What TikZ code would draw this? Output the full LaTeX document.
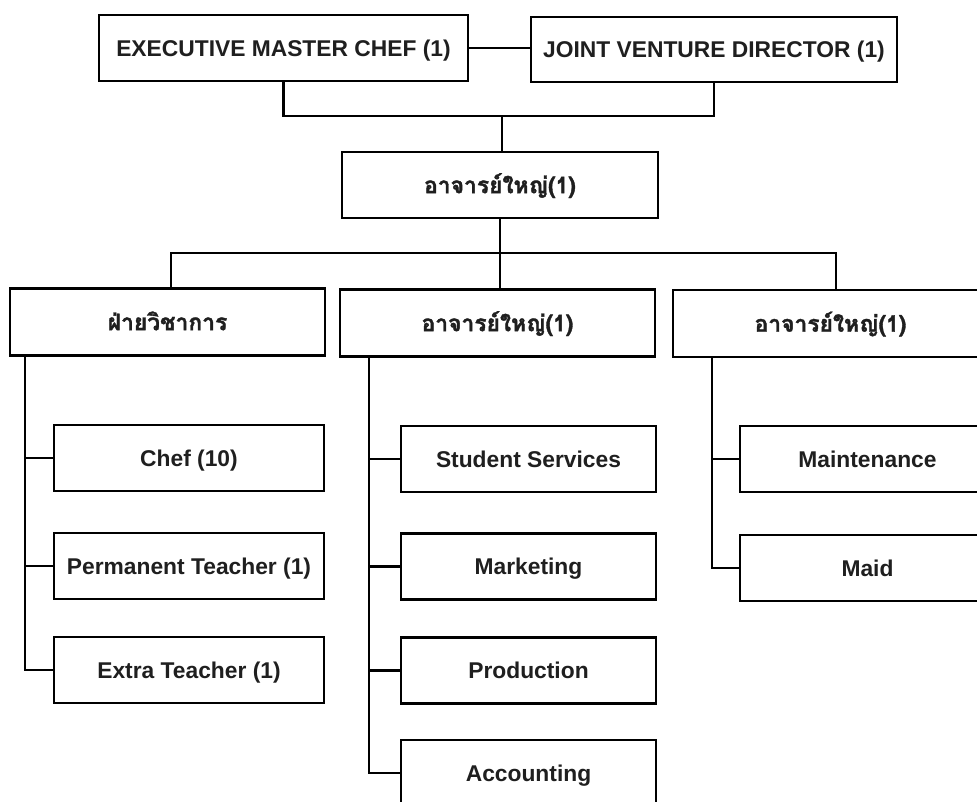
\documentclass[tikz,border=0pt]{standalone}
\usepackage{fontspec}
\setmainfont{Liberation Sans}
\newfontfamily\thai[Script=Thai, BoldFeatures={FakeBold=1.5}]{Loma}
\begin{document}
\begin{tikzpicture}[x=1pt,y=-1pt,
  box/.style={draw, line width=2.6pt, rectangle, inner sep=0pt, fill=white,
    text height=16.4pt, text depth=0pt,
    font=\fontsize{22.8}{27}\selectfont\bfseries, text=black!88},
  lnk/.style={line width=2.8pt, line cap=rect}]
\useasboundingbox (0,0) rectangle (977,801);
\begin{scope}
\clip (0,0) rectangle (977,801);
% top level
\node[box, minimum width=369pt, minimum height=66pt] (emc) at (283.5,48) {EXECUTIVE MASTER CHEF (1)};
\node[box, minimum width=366pt, minimum height=65pt] (jvd) at (714,49.5) {JOINT VENTURE DIRECTOR (1)};
\node[box, minimum width=316pt, minimum height=66pt] (head) at (500,185) {\thai อาจารย์ใหญ่(1)};
% level 2
\node[box, minimum width=315pt, minimum height=67pt] (acad) at (167.5,322) {\thai ฝ่ายวิชาการ};
\node[box, minimum width=315pt, minimum height=67pt] (mid) at (497.5,323) {\thai อาจารย์ใหญ่(1)};
\node[box, minimum width=315pt, minimum height=67pt] (rgt) at (830.5,323.5) {\thai อาจารย์ใหญ่(1)};
% level 3 left
\node[box, minimum width=270pt, minimum height=66pt] (chef) at (189,458) {Chef (10)};
\node[box, minimum width=270pt, minimum height=66pt] (perm) at (189,566) {Permanent Teacher (1)};
\node[box, minimum width=270pt, minimum height=66pt] (extra) at (189,670) {Extra Teacher (1)};
% level 3 middle
\node[box, minimum width=255pt, minimum height=66pt] (stud) at (528.5,459) {Student Services};
\node[box, minimum width=255pt, minimum height=66pt] (mkt) at (528.5,566.5) {Marketing};
\node[box, minimum width=255pt, minimum height=66pt] (prod) at (528.5,670.5) {Production};
\node[box, minimum width=255pt, minimum height=66pt] (acc) at (528.5,773) {Accounting};
% level 3 right
\node[box, minimum width=255pt, minimum height=66pt] (maint) at (867.5,459) {Maintenance};
\node[box, minimum width=255pt, minimum height=66pt] (maid) at (867.5,568) {Maid};
% connectors top
\draw[lnk] (emc.east) -- (jvd.west |- emc.east);
\coordinate (j) at (502,116);
\draw[lnk] (emc.south) |- (j) -| (jvd.south);
\draw[lnk] (j) -- (head.north -| j);
\coordinate (h) at (500,253);
\draw[lnk] (head.south) -- (h);
\draw[lnk] (acad.north -| 171,0) |- (h) -| (rgt.north -| 836,0);
\draw[lnk] (h) -- (mid.north -| h);
% trunks
\coordinate (tl) at (25,355.5);
\draw[lnk] (tl) |- (extra.west);
\draw[lnk] (tl |- chef.west) -- (chef.west);
\draw[lnk] (tl |- perm.west) -- (perm.west);
\coordinate (tm) at (369,356.5);
\draw[lnk] (tm) |- (acc.west);
\draw[lnk] (tm |- stud.west) -- (stud.west);
\draw[lnk] (tm |- mkt.west) -- (mkt.west);
\draw[lnk] (tm |- prod.west) -- (prod.west);
\coordinate (tr) at (712,357);
\draw[lnk] (tr) |- (maid.west);
\draw[lnk] (tr |- maint.west) -- (maint.west);
\end{scope}
\end{tikzpicture}
\end{document}
